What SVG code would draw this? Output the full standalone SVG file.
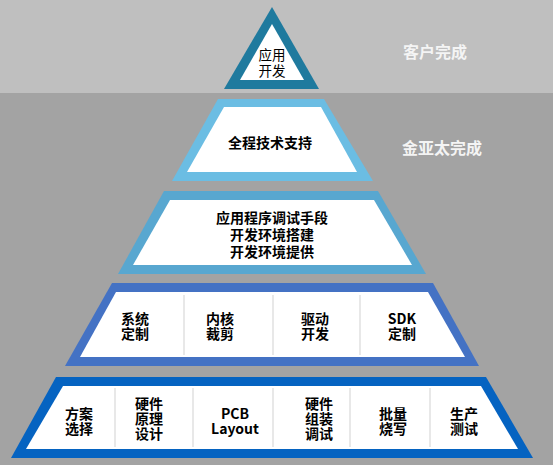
<svg xmlns="http://www.w3.org/2000/svg" width="553" height="465" viewBox="0 0 553 465">
<style>
.t{font-family:"Noto Sans CJK SC","Noto Sans",sans-serif;font-size:14px;font-weight:bold;fill:#000;text-anchor:middle;dominant-baseline:central}
.n{font-weight:normal;font-size:13.5px}
.lbl{font-family:"Noto Sans CJK SC","Noto Sans",sans-serif;font-size:16px;font-weight:bold;fill:#f4f4f4;text-anchor:middle;dominant-baseline:central}
.w{fill:#fff}
.div{stroke:#d9d9d9;stroke-width:1.2}
</style>
<rect x="0" y="0" width="553" height="93" fill="#bfbfbf"/>
<rect x="0" y="93" width="553" height="372" fill="#a3a3a3"/>
<text class="lbl" x="435" y="51">客户完成</text>
<text class="lbl" x="442" y="147">金亚太完成</text>
<g id="level1">
<polygon points="272,7 319,89 224,89" fill="#1f7a9e"/>
<polygon class="w" points="272,24 304,80 240,80"/>
<text class="t n" x="272" y="54">应用<tspan x="272" dy="16">开发</tspan></text>
</g>
<g id="level2">
<polygon points="218,99 324,99 373,181 172,181" fill="#6bbde3"/>
<polygon class="w" points="224,107 321,107 357,172 187,172"/>
<text class="t" x="270" y="142">全程技术支持</text>
</g>
<g id="level3">
<polygon points="164,191 378,191 426,274 118,274" fill="#58a7d0"/>
<polygon class="w" points="170,200 374,200 412,265 133,265"/>
<text class="t" x="272" y="217">应用程序调试手段<tspan x="272" dy="17">开发环境搭建</tspan><tspan x="272" dy="17">开发环境提供</tspan></text>
</g>
<g id="level4">
<polygon points="112,283 433,283 479,366 65,366" fill="#4472c4"/>
<polygon class="w" points="116,292 428,292 465,357 80,357"/>
<line class="div" x1="184" y1="295" x2="184" y2="355"/>
<line class="div" x1="273" y1="295" x2="273" y2="355"/>
<line class="div" x1="360" y1="295" x2="360" y2="355"/>
<text class="t" x="135" y="318">系统<tspan x="135" dy="15">定制</tspan></text>
<text class="t" x="220" y="318">内核<tspan x="220" dy="15">裁剪</tspan></text>
<text class="t" x="315" y="318">驱动<tspan x="315" dy="15">开发</tspan></text>
<text class="t" x="402" y="318">SDK<tspan x="402" dy="15">定制</tspan></text>
</g>
<g id="level5">
<polygon points="56,377 486,377 533,458 11,458" fill="#0563c1"/>
<polygon class="w" points="63,386 481,386 518,449 26,449"/>
<line class="div" x1="115" y1="388" x2="115" y2="447"/>
<line class="div" x1="193" y1="388" x2="193" y2="447"/>
<line class="div" x1="273" y1="388" x2="273" y2="447"/>
<line class="div" x1="350" y1="388" x2="350" y2="447"/>
<line class="div" x1="430" y1="388" x2="430" y2="447"/>
<text class="t" x="79" y="413">方案<tspan x="79" dy="15">选择</tspan></text>
<text class="t" x="149" y="403">硬件<tspan x="149" dy="15">原理</tspan><tspan x="149" dy="15">设计</tspan></text>
<text class="t" x="235" y="413">PCB<tspan x="235" dy="15">Layout</tspan></text>
<text class="t" x="319" y="403">硬件<tspan x="319" dy="15">组装</tspan><tspan x="319" dy="15">调试</tspan></text>
<text class="t" x="393" y="413">批量<tspan x="393" dy="15">烧写</tspan></text>
<text class="t" x="464" y="413">生产<tspan x="464" dy="15">测试</tspan></text>
</g>
<g id="connectors"></g>
</svg>
